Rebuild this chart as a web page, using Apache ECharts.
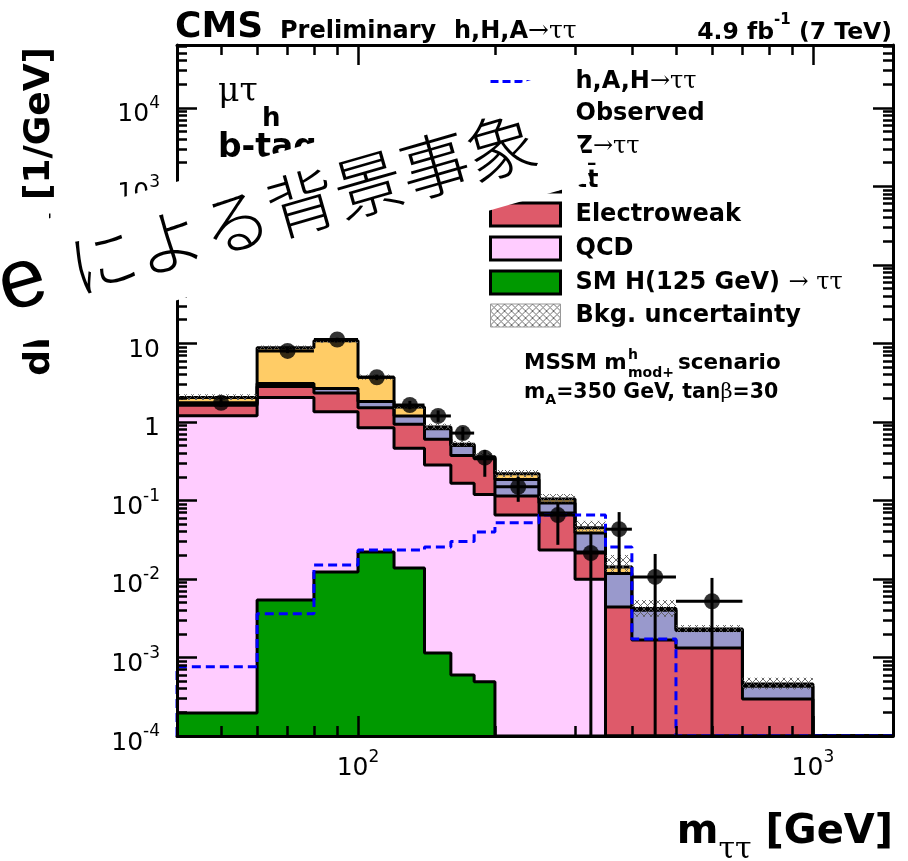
<!DOCTYPE html>
<html><head><meta charset="utf-8">
<script src="https://cdn.jsdelivr.net/npm/echarts@6/dist/echarts.min.js"></script>
<style>html,body{margin:0;padding:0;background:#fff}#c{width:908px;height:861px}</style>
</head><body><div id="c"></div>
<script>
// ---------------- data ----------------
const binEdges = [40,60,80,100,120,140,160,180,200,250,300,350,400,500,700,1000,1500];
// cumulative stack heights (top edge of each stacked layer), dN/dm [1/GeV]
const smHiggsTop = [1.96e-4,5.4e-3,1.23e-2,2.2e-2,1.38e-2,1.14e-3,6.0e-4,4.9e-4,0,0,0,0,0,0,0,0];
const qcdTop     = [1.2,2.05,1.35,0.84,0.46,0.283,0.165,0.119,0.0653,0.0234,0.0099,0,0,0,0,0];
const ewkTop     = [1.63,2.83,2.34,1.51,0.93,0.60,0.374,0.34,0.114,0.069,0.0221,0.0044,0.00167,0.00132,2.96e-4,0];
const ttTop      = [1.72,3.09,2.67,1.82,1.19,0.82,0.50,0.35,0.185,0.093,0.0385,0.0117,0.0040,0.0022,4.3e-4,0];
const zttTop     = [2.05,8.8,10.8,3.71,1.55,0.86,0.52,0.36,0.218,0.104,0.045,0.0142,0.0042,0.0023,4.6e-4,0];
const bkgBandLow  = [1.9,8.2,10.1,3.45,1.45,0.80,0.49,0.34,0.197,0.095,0.041,0.0123,0.0033,0.0021,3.9e-4,0];
const bkgBandHigh = [2.25,9.4,11.5,4.0,1.66,0.95,0.57,0.40,0.244,0.121,0.055,0.0202,0.0054,0.0026,5.5e-4,0];
const signalHAH  = [7.6e-4,3.6e-3,1.5e-2,2.34e-2,2.34e-2,2.56e-2,3.0e-2,3.97e-2,5.2e-2,6.5e-2,6.5e-2,2.56e-2,1.72e-3,0,0,0];
const observed   = [1.75,8.0,11.2,3.7,1.64,1.19,0.72,0.35,0.149,0.065,0.0214,0.043,0.0106,0.0052,0,0];
const observedLow  = [1.55,7.5,10.6,3.4,1.45,1.0,0.59,0.20,0.096,0.0272,0,0.012,0,0,0,0];
const observedHigh = [1.97,8.6,11.8,4.0,1.85,1.4,0.86,0.44,0.20,0.093,0.040,0.071,0.0208,0.0103,0,0];

const X_MIN = 40, X_MAX = 1500, Y_MIN = 1e-4, Y_MAX = 6.3e4;

const NAMES = {
  sig: 'h,A,H→ττ', obs: 'Observed', ztt: 'Z→ττ', tt: 'tt\u0304',
  ewk: 'Electroweak', qcd: 'QCD', smh: 'SM H(125 GeV) → ττ', unc: 'Bkg. uncertainty'
};

// ---------------- helpers ----------------
function stepData(vals, leadFromZero) {
  const pts = [];
  if (leadFromZero) pts.push([binEdges[0], Y_MIN]);
  for (let i = 0; i < vals.length; i++) pts.push([binEdges[i], Math.max(vals[i], Y_MIN)]);
  pts.push([binEdges[vals.length], Math.max(vals[vals.length - 1], Y_MIN)]);
  return pts;
}
const hatchCanvas = document.createElement('canvas');
hatchCanvas.width = 7; hatchCanvas.height = 7;
(function(){
  const c = hatchCanvas.getContext('2d');
  c.strokeStyle = '#5a5a5a'; c.lineWidth = 0.9;
  c.beginPath(); c.moveTo(0,0); c.lineTo(7,7); c.moveTo(7,0); c.lineTo(0,7); c.stroke();
})();
const hatch = { image: hatchCanvas, repeat: 'repeat' };

const bandData = [], errData = [], obsPts = [];
for (let i = 0; i < binEdges.length - 1; i++) {
  const x0 = binEdges[i], x1 = binEdges[i + 1], xc = (x0 + x1) / 2;
  if (bkgBandHigh[i] > 0) bandData.push([x0, x1, bkgBandLow[i], bkgBandHigh[i]]);
  if (observed[i] > 0) {
    obsPts.push([xc, observed[i]]);
    errData.push([x0, x1, xc, observed[i], observedLow[i], observedHigh[i]]);
  }
}

function logLabel(v) {
  const n = Math.round(Math.log10(v));
  if (n === 0) return '{b|1}';
  if (n === 1) return '{b|10}';
  return '{b|10}{s|' + n + '}';
}
const labelRich = {
  b: { fontFamily: 'DejaVu Sans', fontSize: 25, lineHeight: 25, padding: [7,0,7,0], verticalAlign: 'top', color: '#000' },
  s: { fontFamily: 'DejaVu Sans', fontSize: 17, lineHeight: 17, verticalAlign: 'top', color: '#000' }
};
function axisCommon(extra) {
  return Object.assign({
    type: 'log', logBase: 10, z: 10,
    axisLine: { show: true, onZero: false, lineStyle: { color: '#000', width: 3 } },
    axisTick: { show: true, inside: true, length: 20, lineStyle: { color: '#000', width: 2.5 } },
    minorTick: { show: true, splitNumber: 9, length: 10, lineStyle: { color: '#000', width: 2.5 } },
    splitLine: { show: false }, minorSplitLine: { show: false }
  }, extra);
}

const solid = (fill) => ({ type: 'line', step: 'end', symbol: 'none', silent: true, clip: true,
  lineStyle: { color: '#000', width: 3 }, itemStyle: { color: fill },
  areaStyle: { color: fill, opacity: 1, origin: 'start' }, z: 2 });

const dashIcon = 'path://M0,0h0.01v0.01h-0.01z M69.99,22.99h0.01v0.01h-0.01z ' +
  [0,12,24,36,48,60].map(x => 'M' + x + ',10h8v3h-8z').join(' ');

const T = (x, y, text, font, extra) => ({ type: 'text', x: x, y: y, z: 50,
  style: Object.assign({ text: text, font: font, fill: '#000', textAlign: 'left', textVerticalAlign: 'middle', align: 'left', verticalAlign: 'middle' }, extra || {}) });

const chart = echarts.init(document.getElementById('c'), null, { renderer: 'canvas' });
chart.setOption({
  animation: false,
  backgroundColor: '#fff',
  grid: { left: 177, right: 15, top: 45, bottom: 125, containLabel: false },
  xAxis: [
    axisCommon({ position: 'bottom', min: X_MIN, max: X_MAX,
      axisLabel: { show: true, margin: 13, formatter: logLabel, rich: labelRich, showMinLabel: false, showMaxLabel: false } }),
    axisCommon({ position: 'top', min: X_MIN, max: X_MAX, axisLabel: { show: false } })
  ],
  yAxis: [
    axisCommon({ position: 'left', min: Y_MIN, max: Y_MAX,
      axisLabel: { show: true, margin: 17, formatter: logLabel, rich: labelRich, showMinLabel: true, showMaxLabel: false } }),
    axisCommon({ position: 'right', min: Y_MIN, max: Y_MAX, axisLabel: { show: false } })
  ],
  legend: {
    orient: 'vertical', left: 489, top: 69.5, padding: 0,
    itemWidth: 70, itemHeight: 23, itemGap: 8, selectedMode: false,
    formatter: function (name) {
      if (name === NAMES.sig) return '{sp|}{b|h,A,H}{g|→ττ}';
      if (name === NAMES.ztt) return '{sp|}{b|Z}{g|→ττ}';
      if (name === NAMES.smh) return '{sp|}{b|SM H(125 GeV) }{g|→ ττ}';
      return '{sp|}{b|' + name + '}';
    },
    textStyle: { fontSize: 20, lineHeight: 23, rich: {
      sp: { width: 10, lineHeight: 23 },
      b: { fontFamily: 'DejaVu Sans', fontWeight: 'bold', fontSize: 24, lineHeight: 23, color: '#000' },
      g: { fontFamily: 'DejaVu Serif', fontSize: 24, lineHeight: 23, color: '#000' }
    } },
    data: [
      { name: NAMES.sig, icon: dashIcon, itemStyle: { color: '#0000FF', borderWidth: 0 } },
      { name: NAMES.obs, icon: 'circle', itemStyle: { color: '#000', borderWidth: 0 } },
      { name: NAMES.ztt, icon: 'rect', itemStyle: { color: '#FFCC66', borderColor: '#000', borderWidth: 3 } },
      { name: NAMES.tt,  icon: 'rect', itemStyle: { color: '#9999CC', borderColor: '#000', borderWidth: 3 } },
      { name: NAMES.ewk, icon: 'rect', itemStyle: { color: '#DE5A6A', borderColor: '#000', borderWidth: 3 } },
      { name: NAMES.qcd, icon: 'rect', itemStyle: { color: '#FFCCFF', borderColor: '#000', borderWidth: 3 } },
      { name: NAMES.smh, icon: 'rect', itemStyle: { color: '#009900', borderColor: '#000', borderWidth: 3 } },
      { name: NAMES.unc, icon: 'rect', itemStyle: { color: hatch, borderColor: '#999', borderWidth: 1 } }
    ]
  },
  series: [
    Object.assign(solid('#FFCC66'), { name: NAMES.ztt, data: stepData(zttTop) }),
    Object.assign(solid('#9999CC'), { name: NAMES.tt,  data: stepData(ttTop) }),
    Object.assign(solid('#DE5A6A'), { name: NAMES.ewk, data: stepData(ewkTop) }),
    Object.assign(solid('#FFCCFF'), { name: NAMES.qcd, data: stepData(qcdTop) }),
    Object.assign(solid('#009900'), { name: NAMES.smh, data: stepData(smHiggsTop) }),
    {
      name: NAMES.unc, type: 'custom', z: 3, silent: true, itemStyle: { color: hatch },
      encode: { x: [0, 1], y: [2, 3] }, data: bandData,
      renderItem: function (params, api) {
        const p0 = api.coord([api.value(0), api.value(3)]);
        const p1 = api.coord([api.value(1), Math.max(api.value(2), Y_MIN)]);
        const cs = params.coordSys;
        const r = echarts.graphic.clipRectByRect(
          { x: p0[0], y: p0[1], width: p1[0] - p0[0], height: p1[1] - p0[1] },
          { x: cs.x, y: cs.y, width: cs.width, height: cs.height });
        return r && { type: 'rect', shape: r, style: { fill: hatch, stroke: null } };
      }
    },
    { name: NAMES.sig, type: 'line', step: 'end', symbol: 'none', silent: true, z: 4, clip: true,
      data: stepData(signalHAH, true),
      lineStyle: { color: '#0000FF', width: 3, type: [9, 5] }, itemStyle: { color: '#0000FF' } },
    {
      name: 'Observed errors', type: 'custom', z: 5, silent: true,
      encode: { x: [0, 1, 2], y: [3, 4, 5] }, data: errData,
      renderItem: function (params, api) {
        const xc = api.value(2), y = api.value(3);
        const pc = api.coord([xc, y]);
        const pl = api.coord([api.value(0), y]);
        const pr = api.coord([api.value(1), y]);
        const plo = api.coord([xc, Math.max(api.value(4), Y_MIN)]);
        const phi = api.coord([xc, api.value(5)]);
        return { type: 'group', children: [
          { type: 'line', shape: { x1: pl[0], y1: pc[1], x2: pr[0], y2: pc[1] }, style: { stroke: '#000', lineWidth: 3 } },
          { type: 'line', shape: { x1: pc[0], y1: plo[1], x2: pc[0], y2: phi[1] }, style: { stroke: '#000', lineWidth: 3 } }
        ] };
      }
    },
    { name: NAMES.obs, type: 'scatter', z: 6, silent: true, symbol: 'circle', symbolSize: 16,
      itemStyle: { color: '#000' }, data: obsPts }
  ],
  graphic: [
    T(175, 28, 'CMS', 'bold 36px "DejaVu Sans"'),
    T(280, 31.5, 'Preliminary', 'bold 24px "DejaVu Sans"'),
    T(454, 31.5, '{b|h,H,A}{g|→ττ}', null, { rich: { b: { font: 'bold 24px "DejaVu Sans"', fill: '#000' }, g: { font: '25px "DejaVu Serif"', fill: '#000' } } }),
    T(892, 25, '{b|4.9 fb}{s|-1}{b| (7 TeV)}', null, { textAlign: 'right', align: 'right',
      rich: { b: { font: 'bold 23.5px "DejaVu Sans"', fill: '#000', lineHeight: 24, padding: [8,0,0,0], verticalAlign: 'top' },
              s: { font: 'bold 15px "DejaVu Sans"', fill: '#000', lineHeight: 15, verticalAlign: 'top' } } }),
    T(218, 92, 'μτ', '33px "DejaVu Serif"'),
    T(262, 119, 'h', 'bold 26px "DejaVu Sans"'),
    T(218, 148, 'b-tag', 'bold 33px "DejaVu Sans"'),
    T(524, 363, 'MSSM m', 'bold 21.5px "DejaVu Sans"'),
    T(628, 355, 'h', 'bold 14px "DejaVu Sans"'),
    T(628, 373, 'mod+', 'bold 14px "DejaVu Sans"'),
    T(678, 363, 'scenario', 'bold 21.5px "DejaVu Sans"'),
    T(524, 382, '{b|m}{sub|A}{b|=350 GeV, tan}{g|β}{b|=30}', null, { textVerticalAlign: 'top', verticalAlign: 'top',
      rich: { b: { font: 'bold 20.5px "DejaVu Sans"', fill: '#000', lineHeight: 22, verticalAlign: 'top' },
              sub: { font: 'bold 14px "DejaVu Sans"', fill: '#000', lineHeight: 14, padding: [11,0,0,0], verticalAlign: 'top' },
              g: { font: '21px "DejaVu Serif"', fill: '#000', lineHeight: 22, verticalAlign: 'top' } } }),
    // axis titles
    T(893, 813, '{b|m}{g|ττ}{b| [GeV]}', null, { textAlign: 'right', align: 'right', textVerticalAlign: 'top', verticalAlign: 'top',
      rich: { b: { font: 'bold 40px "DejaVu Sans"', fill: '#000', lineHeight: 42, verticalAlign: 'top' },
              g: { font: '30px "DejaVu Serif"', fill: '#000', lineHeight: 30, padding: [22,0,0,0], verticalAlign: 'top' } } }),
    Object.assign(T(22, 47, '{b|dN/dm}{g|ττ}{b| [1/GeV]}', null, { textAlign: 'right', align: 'right', textVerticalAlign: 'top', verticalAlign: 'top',
      rich: { b: { font: 'bold 36px "DejaVu Sans"', fill: '#000', lineHeight: 38, verticalAlign: 'top' },
              g: { font: '28px "DejaVu Serif"', fill: '#000', lineHeight: 28, padding: [21,0,0,0], verticalAlign: 'top' } } }),
      { rotation: Math.PI / 2 }),
    // overlaid caption on a white band
    { type: 'group', x: 559, y: 72, rotation: Math.atan(0.287), z: 100, children: [
      { type: 'rect', z: 100, shape: { x: -780, y: 0, width: 780, height: 114 }, style: { fill: '#fff', stroke: null } },
      { type: 'text', z: 101, x: -42, y: 55, style: { text: 'による背景事象', font: '300 69px "Noto Sans CJK JP"', fill: '#000', textAlign: 'right', textVerticalAlign: 'middle', align: 'right', verticalAlign: 'middle' } },
      { type: 'text', z: 101, x: -574, y: 55, style: { text: 'e', font: '84px "Liberation Sans"', fill: '#000', textAlign: 'center', textVerticalAlign: 'middle', align: 'center', verticalAlign: 'middle' } }
    ] }
  ]
});
</script></body></html>
